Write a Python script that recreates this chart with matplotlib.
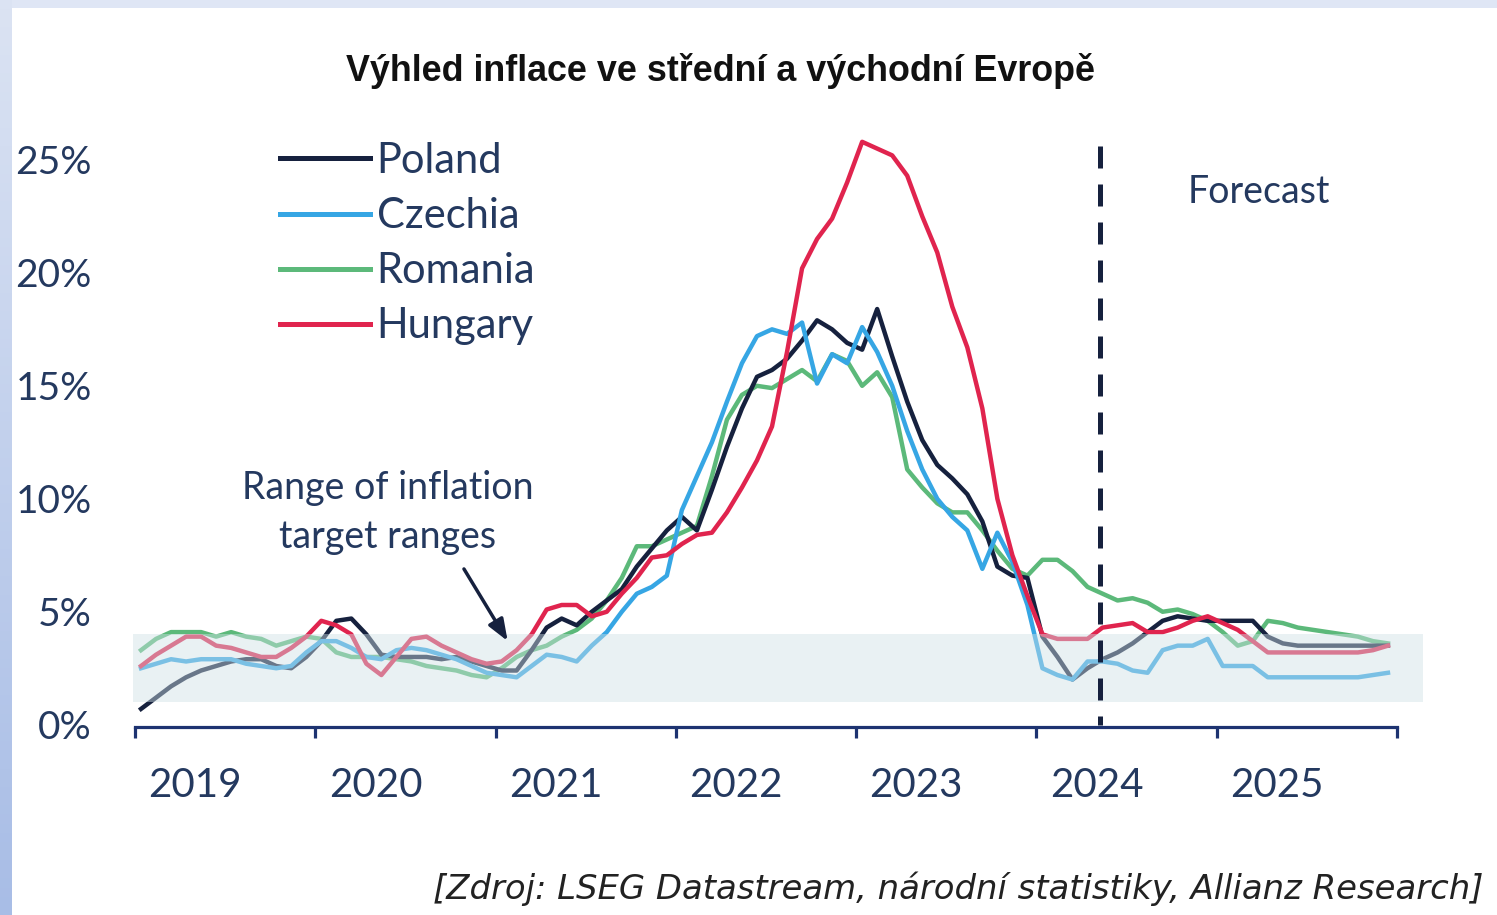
import matplotlib
matplotlib.use("Agg")
import matplotlib.pyplot as plt
import numpy as np
from matplotlib.patches import Rectangle
from matplotlib.colors import LinearSegmentedColormap

# monthly inflation, % y/y, last part is forecast
poland = [0.7, 1.2, 1.7, 2.1, 2.4, 2.6, 2.8, 2.9, 2.9, 2.6, 2.5, 3.0,
          3.7, 4.6, 4.7, 4.0, 3.1, 3.0, 3.0, 3.0, 2.9, 3.0, 2.8, 2.6,
          2.4, 2.4, 3.3, 4.3, 4.7, 4.4, 5.0, 5.5, 6.0, 7.0, 7.8, 8.6,
          9.2, 8.6, 10.4, 12.3, 14.0, 15.4, 15.7, 16.2, 17.0, 17.9, 17.5, 16.9,
          16.6, 18.4, 16.3, 14.3, 12.6, 11.5, 10.9, 10.2, 9.0, 7.0, 6.6, 6.5,
          3.9, 3.0, 2.0, 2.5, 2.9, 3.2, 3.6, 4.1, 4.6, 4.8, 4.7, 4.6,
          4.6, 4.6, 4.6, 3.9, 3.6, 3.5, 3.5, 3.5, 3.5, 3.5, 3.5, 3.5]
czechia = [2.5, 2.7, 2.9, 2.8, 2.9, 2.9, 2.9, 2.7, 2.6, 2.5, 2.6, 3.2,
           3.7, 3.7, 3.4, 3.0, 2.9, 3.3, 3.4, 3.3, 3.1, 2.9, 2.6, 2.3,
           2.2, 2.1, 2.6, 3.1, 3.0, 2.8, 3.5, 4.1, 5.0, 5.8, 6.1, 6.6,
           9.5, 11.0, 12.5, 14.3, 16.0, 17.2, 17.5, 17.3, 17.8, 15.1, 16.4, 16.0,
           17.6, 16.5, 15.0, 13.0, 11.3, 10.0, 9.2, 8.6, 6.9, 8.5, 7.2, 5.3,
           2.5, 2.2, 2.0, 2.8, 2.8, 2.7, 2.4, 2.3, 3.3, 3.5, 3.5, 3.8,
           2.6, 2.6, 2.6, 2.1, 2.1, 2.1, 2.1, 2.1, 2.1, 2.1, 2.2, 2.3]
romania = [3.3, 3.8, 4.1, 4.1, 4.1, 3.9, 4.1, 3.9, 3.8, 3.5, 3.7, 3.9,
           3.8, 3.2, 3.0, 3.0, 3.0, 2.9, 2.8, 2.6, 2.5, 2.4, 2.2, 2.1,
           2.5, 3.0, 3.3, 3.5, 3.9, 4.2, 4.7, 5.5, 6.5, 7.9, 7.9, 8.2,
           8.5, 8.8, 11.0, 13.5, 14.6, 15.0, 14.9, 15.3, 15.7, 15.2, 16.4, 16.1,
           15.0, 15.6, 14.5, 11.3, 10.5, 9.8, 9.4, 9.4, 8.6, 7.7, 6.9, 6.6,
           7.3, 7.3, 6.8, 6.1, 5.8, 5.5, 5.6, 5.4, 5.0, 5.1, 4.9, 4.6,
           4.1, 3.5, 3.7, 4.6, 4.5, 4.3, 4.2, 4.1, 4.0, 3.9, 3.7, 3.6]
hungary = [2.6, 3.1, 3.5, 3.9, 3.9, 3.5, 3.4, 3.2, 3.0, 3.0, 3.4, 3.9,
           4.6, 4.4, 4.0, 2.7, 2.2, 3.0, 3.8, 3.9, 3.5, 3.2, 2.9, 2.7,
           2.8, 3.3, 4.0, 5.1, 5.3, 5.3, 4.8, 5.0, 5.8, 6.5, 7.4, 7.5,
           8.0, 8.4, 8.5, 9.4, 10.5, 11.7, 13.2, 16.5, 20.2, 21.5, 22.4, 24.0,
           25.8, 25.5, 25.2, 24.3, 22.5, 20.9, 18.5, 16.7, 14.0, 10.0, 7.5, 5.7,
           4.0, 3.8, 3.8, 3.8, 4.3, 4.4, 4.5, 4.1, 4.1, 4.3, 4.6, 4.8,
           4.5, 4.2, 3.7, 3.2, 3.2, 3.2, 3.2, 3.2, 3.2, 3.2, 3.3, 3.5]

years = ["2019", "2020", "2021", "2022", "2023", "2024", "2025"]
target_low, target_high = 1.0, 4.0
forecast_start = 64.25
yticks = [0, 5, 10, 15, 20, 25]

navy = "#16213e"
text_col = "#24395f"
axis_col = "#1d3371"
colors = {"Poland": navy, "Czechia": "#36a6e4", "Romania": "#5cb97a", "Hungary": "#e0244e"}

plt.rcParams["font.family"] = ["Lato", "DejaVu Sans"]

fig = plt.figure(figsize=(14.97, 9.15), dpi=100)
fig.patch.set_facecolor("white")

# blue frame strips on the left and top
strip = fig.add_axes([0, 0, 12 / 1497, 1])
cmap = LinearSegmentedColormap.from_list("s", ["#a8bde6", "#dbe3f3"])
strip.imshow(np.linspace(0, 1, 100).reshape(-1, 1), aspect="auto", cmap=cmap, origin="lower")
strip.axis("off")
top = fig.add_axes([12 / 1497, 1 - 8 / 915, 1, 8 / 915])
top.set_facecolor("#dfe6f5")
top.set_xticks([])
top.set_yticks([])
for s in top.spines.values():
    s.set_visible(False)

ax = fig.add_axes([135 / 1497, (915 - 727) / 915, 1262 / 1497, 601 / 915])
ax.set_xlim(0, 84)
ax.set_ylim(-0.1, 26.5)

x = np.arange(len(poland)) + 0.4
series = [("Romania", romania), ("Poland", poland), ("Czechia", czechia), ("Hungary", hungary)]
lines = {}
for name, vals in series:
    ln, = ax.plot(x, vals, color=colors[name], lw=3.2, solid_joinstyle="round", zorder=2)
    lines[name] = ln

# target band drawn over the lines (washes them out)
band = Rectangle((-0.1, target_low), 85.8, target_high - target_low, facecolor="#cfe1e6",
                 alpha=0.45, edgecolor="none", zorder=3, clip_on=False)
ax.add_patch(band)

# forecast divider
ax.plot([forecast_start, forecast_start], [25.6, 0], color=navy, lw=3.6,
        linestyle=(0, (4.4, 3.2)), dash_capstyle="butt", zorder=4)
ax.text(74.8, 23.6, "Forecast", ha="center", va="center", fontsize=27, color=text_col)

ax.text(16.8, 10.5, "Range of inflation", ha="center", va="center", fontsize=27, color=text_col)
ax.text(16.8, 8.3, "target ranges", ha="center", va="center", fontsize=27, color=text_col)
ax.annotate("", xy=(24.9, 3.6), xytext=(21.8, 7.0),
            arrowprops=dict(arrowstyle="-|>,head_length=1.3,head_width=0.5", color=navy, lw=2.5),
            zorder=5)

# axes styling
for s in ["top", "right", "left"]:
    ax.spines[s].set_visible(False)
ax.spines["bottom"].set_color(axis_col)
ax.spines["bottom"].set_linewidth(2.3)
ax.set_facecolor("none")

ax.set_xticks(np.arange(0, 85, 12))
ax.set_xticklabels([])
ax.tick_params(axis="x", which="major", direction="out", length=8, width=2.3, color=axis_col)
ax.set_xticks(np.arange(4, 84, 12), minor=True)
ax.set_xticklabels(years, minor=True)
ax.tick_params(axis="x", which="minor", length=0, pad=29, labelsize=29, labelcolor=text_col)

ax.set_yticks(yticks)
ax.set_yticklabels([f"{v}%" for v in yticks])
ax.tick_params(axis="y", length=0, pad=31, labelsize=28, labelcolor=text_col)

handles = [lines[n] for n in ["Poland", "Czechia", "Romania", "Hungary"]]
leg = ax.legend(handles, ["Poland", "Czechia", "Romania", "Hungary"], loc="upper left",
                bbox_to_anchor=(280 / 1497, 1 - 142 / 915), bbox_transform=fig.transFigure,
                frameon=False, fontsize=30, handlelength=2.15, handletextpad=0.17,
                labelspacing=0.41, borderpad=0, borderaxespad=0)
for t in leg.get_texts():
    t.set_color(text_col)
for h in leg.legend_handles:
    h.set_linewidth(3.6)

fig.text(0.481, 1 - 71 / 915, "Výhled inflace ve střední a východní Evropě", ha="center", va="center",
         fontsize=25.8, fontweight="bold", family=["Liberation Sans", "DejaVu Sans"], color="#111111")
fig.text(433 / 1497, 1 - 889 / 915, "[Zdroj: LSEG Datastream, národní statistiky, Allianz Research]",
         ha="left", va="center", fontsize=24.4, style="italic", family=["DejaVu Sans"], color="#222222")

fig.savefig("out.png", dpi=100)
